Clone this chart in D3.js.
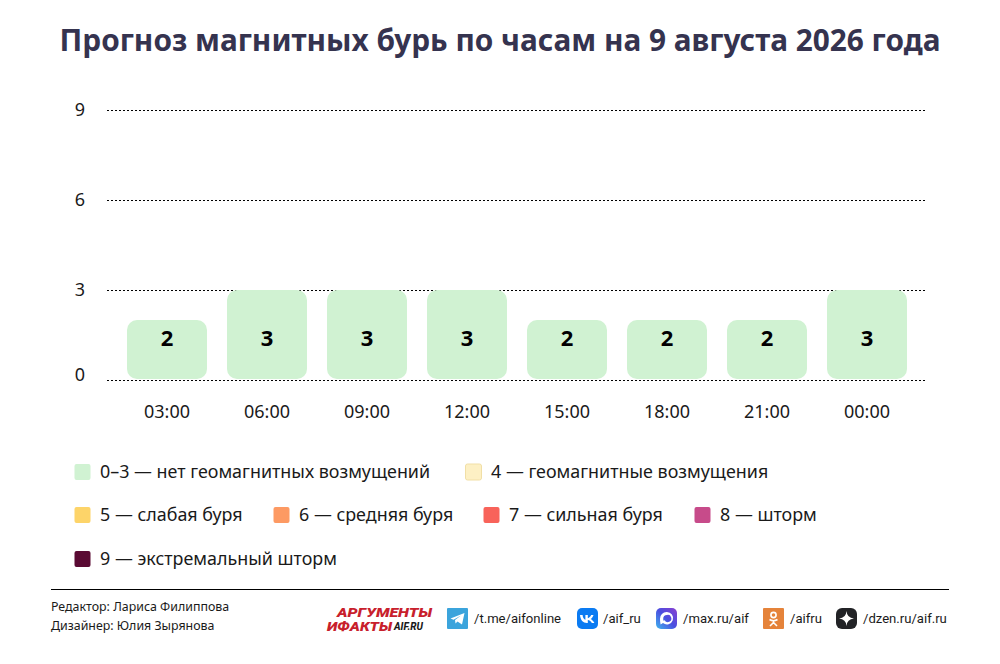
<!DOCTYPE html>
<html lang="ru">
<head>
<meta charset="utf-8">
<script src="https://cdn.jsdelivr.net/npm/d3@7"></script>
<style>
	html, body { margin: 0; padding: 0; background: #fff; }
	svg { display: block; }
	text { font-family: "Noto Sans", sans-serif; }
</style>
</head>
<body>
<div id="chart"></div>
<script>
// data
var hours = ["03:00", "06:00", "09:00", "12:00", "15:00", "18:00", "21:00", "00:00"];
var kpValues = [2, 3, 3, 3, 2, 2, 2, 3];
var yTicks = [0, 3, 6, 9];
var legendLabels = [
	"0–3 — нет геомагнитных возмущений",
	"4 — геомагнитные возмущения",
	"5 — слабая буря",
	"6 — средняя буря",
	"7 — сильная буря",
	"8 — шторм",
	"9 — экстремальный шторм"
];
var legendColors = ["#d0f2d2", "#fdf0c4", "#fdd469", "#fd9a63", "#f8635a", "#c74b8a", "#5a0a33"];
var titleText = "Прогноз магнитных бурь по часам на 9 августа 2026 года";
var credits = ["Редактор: Лариса Филиппова", "Дизайнер: Юлия Зырянова"];
var socialLabels = ["/t.me/aifonline", "/aif_ru", "/max.ru/aif", "/aifru", "/dzen.ru/aif.ru"];

var width = 1000, height = 664;

var svg = d3.select("#chart").append("svg")
	.attr("width", width)
	.attr("height", height);

svg.append("text")
	.attr("x", 500)
	.attr("y", 51)
	.attr("text-anchor", "middle")
	.attr("font-size", 29.8)
	.attr("font-weight", 700)
	.attr("fill", "#35334f")
	.text(titleText);

var x = d3.scaleBand().domain(hours).range([117, 917]).paddingInner(0.2).paddingOuter(0.1);
var y = d3.scaleLinear().domain([0, 9]).range([380, 110]);

// grid lines + y labels
var yAxis = d3.axisLeft(y).tickValues(yTicks).tickSize(0).tickPadding(0);
var yG = svg.append("g").call(yAxis);
yG.select(".domain").remove();
yG.selectAll(".tick text")
	.attr("x", 85)
	.attr("y", function(d) { return d === 0 ? -6 : -1; })
	.attr("dy", "0.36em")
	.attr("text-anchor", "end")
	.attr("font-size", 18)
	.attr("font-family", "Noto Sans")
	.attr("fill", "#1a1a1a");
yG.selectAll(".tick").append("line")
	.attr("x1", 107)
	.attr("x2", 925)
	.attr("stroke", "#000")
	.attr("stroke-width", 1)
	.attr("stroke-dasharray", "2,2");

// bars have all corners rounded
svg.selectAll("rect.bar")
	.data(kpValues)
	.enter().append("rect")
	.attr("class", "bar")
	.attr("x", function(d, i) { return x(hours[i]); })
	.attr("y", function(d) { return y(d); })
	.attr("width", x.bandwidth())
	.attr("height", function(d) { return y(0) - y(d) - 1; })
	.attr("rx", 10)
	.attr("fill", legendColors[0]);

svg.selectAll("text.val")
	.data(kpValues)
	.enter().append("text")
	.attr("class", "val")
	.attr("x", function(d, i) { return x(hours[i]) + x.bandwidth() / 2; })
	.attr("y", 346)
	.attr("text-anchor", "middle")
	.attr("font-size", 22)
	.attr("font-weight", 700)
	.attr("fill", "#000")
	.text(function(d) { return d; });

// hour labels
var xAxis = d3.axisBottom(x).tickSize(0).tickPadding(0);
var xG = svg.append("g").attr("transform", "translate(0,418)").call(xAxis);
xG.select(".domain").remove();
xG.selectAll(".tick text")
	.attr("y", 0)
	.attr("dy", 0)
	.attr("font-size", 18)
	.attr("font-family", "Noto Sans")
	.attr("fill", "#1a1a1a");

// legend, hand placed rows like the original
var legendX = [74, 465, 74, 273, 483, 694, 74];
var legendY = [472, 472, 515, 515, 515, 515, 559];
var legend = svg.selectAll("g.leg")
	.data(legendLabels)
	.enter().append("g")
	.attr("class", "leg")
	.attr("transform", function(d, i) { return "translate(" + legendX[i] + "," + legendY[i] + ")"; });
legend.append("rect")
	.attr("x", 0.5)
	.attr("y", -8)
	.attr("width", 16)
	.attr("height", 16)
	.attr("rx", 2)
	.attr("fill", function(d, i) { return legendColors[i]; })
	.attr("stroke", function(d, i) { return i === 1 ? "#f1dfa6" : "none"; });
legend.append("text")
	.attr("x", 26)
	.attr("y", 6)
	.attr("font-size", 17.9)
	.attr("fill", "#1a1a1a")
	.text(function(d) { return d; });

// footer
svg.append("line")
	.attr("x1", 51).attr("x2", 949)
	.attr("y1", 589.5).attr("y2", 589.5)
	.attr("stroke", "#000");

svg.selectAll("text.credit")
	.data(credits)
	.enter().append("text")
	.attr("class", "credit")
	.attr("x", 51)
	.attr("y", function(d, i) { return 611 + i * 19; })
	.attr("font-size", 12.4)
	.attr("fill", "#1a1a1a")
	.text(function(d) { return d; });

// logo
var logo = svg.append("g").attr("fill", "#c8202c")
	.style("font-style", "italic").style("font-weight", 900);
logo.append("text").attr("x", 337).attr("y", 616.5)
	.attr("font-size", 12).attr("textLength", 95).attr("lengthAdjust", "spacingAndGlyphs")
	.style("font-family", "Roboto").text("АРГУМЕНТЫ");
logo.append("text").attr("x", 327).attr("y", 630.5)
	.attr("font-size", 12).attr("textLength", 65).attr("lengthAdjust", "spacingAndGlyphs")
	.style("font-family", "Roboto").text("ИФАКТЫ");
svg.append("text").attr("x", 394).attr("y", 629.5)
	.attr("font-size", 10).attr("fill", "#1a1a1a")
	.style("font-family", "Roboto").style("font-style", "italic").style("font-weight", 800)
	.text("AIF.RU");

// social icons
var iconX = [447, 577, 656, 763, 836];
var iconFill = ["#3ba4dc", "#0b7bf2", "url(#maxGrad)", "#e5833a", "#222326"];
var iconRx = [1, 5, 5, 1, 6];
var textX = [474, 603, 683, 790, 863];

var grad = svg.append("defs").append("linearGradient")
	.attr("id", "maxGrad")
	.attr("x1", 0).attr("y1", 1).attr("x2", 1).attr("y2", 0);
grad.append("stop").attr("offset", "0%").attr("stop-color", "#3fb5ee");
grad.append("stop").attr("offset", "50%").attr("stop-color", "#4a4fe0");
grad.append("stop").attr("offset", "100%").attr("stop-color", "#8a3fd0");

var social = svg.selectAll("g.soc")
	.data(socialLabels)
	.enter().append("g")
	.attr("class", "soc")
	.attr("transform", function(d, i) { return "translate(" + iconX[i] + ",608)"; });
social.append("rect")
	.attr("width", 21)
	.attr("height", 21)
	.attr("rx", function(d, i) { return iconRx[i]; })
	.attr("fill", function(d, i) { return iconFill[i]; });
social.append("text")
	.attr("x", function(d, i) { return textX[i] - iconX[i]; })
	.attr("y", 15)
	.attr("font-size", 13.1)
	.attr("fill", "#1a1a1a")
	.style("font-family", "Roboto")
	.text(function(d) { return d; });

// icon glyphs
var glyph = social.append("g").attr("fill", "#fff");
d3.select(glyph.nodes()[0]).append("path").attr("d", "M3.5 10.5 L17.5 5 L15 16.5 L10.5 13.5 L8.5 15.5 L8 12 L14 7.5 L6.5 11.8 Z");
d3.select(glyph.nodes()[1]).append("path").attr("d", "M3 7 H5.6 C5.8 10 7 11.4 8.4 11.8 V7 H10.8 V10.2 C12.2 10 13.5 8.6 14.1 7 H16.5 C16 8.9 14.7 10.4 13.6 11 C14.8 11.6 16.3 12.9 17.4 15 H14.8 C14 13.4 12.5 12.3 10.8 12.1 V15 H10 C6 15 3.4 12 3 7 Z");
d3.select(glyph.nodes()[2]).append("path")
	.attr("d", "M10.8 4 A6.2 6.2 0 1 1 7 15 L4.6 16.6 C4.3 14.5 4 13 4 10.8 A6.6 6.6 0 0 1 10.8 4 Z M10.8 7 A3.6 3.6 0 0 0 7.2 10.8 C7.2 11.6 7.3 12.2 7.5 12.8 L8.6 12.2 A3.6 3.6 0 1 0 10.8 7 Z")
	.attr("fill-rule", "evenodd");
d3.select(glyph.nodes()[3]).append("circle").attr("cx", 10.5).attr("cy", 7).attr("r", 2.6)
	.attr("fill", "none").attr("stroke", "#fff").attr("stroke-width", 1.6);
d3.select(glyph.nodes()[3]).append("path").attr("d", "M6.5 11.5 Q10.5 14 14.5 11.5 M10.5 13 V14.5 M10.5 14.5 L7 18 M10.5 14.5 L14 18")
	.attr("fill", "none").attr("stroke", "#fff").attr("stroke-width", 1.6);
d3.select(glyph.nodes()[4]).append("path").attr("d", "M10.5 3 Q11 10 18 10.5 Q11 11 10.5 18 Q10 11 3 10.5 Q10 10 10.5 3 Z");
</script>
</body>
</html>
